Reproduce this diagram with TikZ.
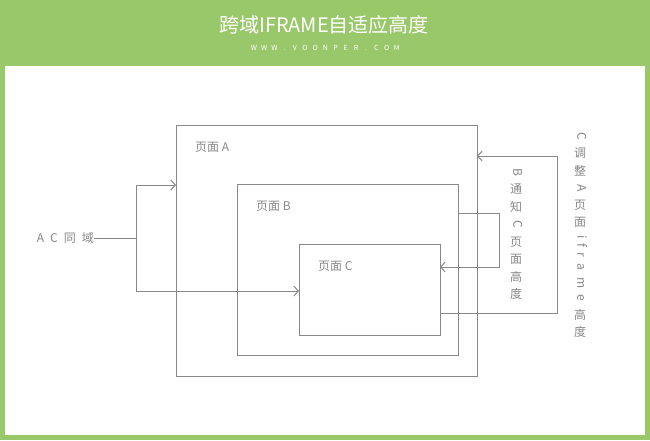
\documentclass[tikz,border=0pt]{standalone}
\usepackage{fontspec}
\setmainfont{Noto Sans CJK SC}
\usepackage{tikz}
\usetikzlibrary{arrows.meta,positioning}
\definecolor{headGreen}{RGB}{153,200,106}
\definecolor{lineGray}{RGB}{136,136,136}

\begin{document}
\begin{tikzpicture}[x=1pt,y=-1pt,
    page/.style={draw=lineGray, line width=1pt, anchor=north west, inner sep=0pt, outer sep=0pt},
    link/.style={draw=lineGray, line width=1pt},
    arr/.style={link, -{Straight Barb[length=4.5pt,width=10pt]}},
    txt/.style={text=lineGray, font=\fontsize{12}{14}\selectfont, inner sep=0pt},
    cjk/.style={txt, anchor=center},
    lat/.style={txt, rotate=-90, anchor=mid},
    sub/.style={text=white, font=\fontsize{7}{8}\selectfont, inner sep=0pt, anchor=base}]
    % Frame and header
    \useasboundingbox (0,0) rectangle (650,440);
    \fill[headGreen] (0,0) rectangle (650,440);
    \fill[white] (5,66) rectangle (645,435);
    \node[text=white, font=\fontsize{20}{24}\selectfont, inner sep=0pt] (title) at (324,25) {跨域IFRAME自适应高度};
    \foreach \ch [count=\i from 0] in {W,W,W,.,V,O,O,N,P,E,R,.,C,O,M}
        \node[sub] (site\i) at ({254+\i*10.2},50.5) {\ch};

    % Pages
    \node[page, minimum width=301pt, minimum height=251pt] (pageA) at (176,125) {};
    \node[page, minimum width=221pt, minimum height=171pt] (pageB) at (237,184) {};
    \node[page, minimum width=141pt, minimum height=91pt] (pageC) at (299,244) {};
    \node[txt, below right=17pt and 19pt of pageA.north west] (nameA) {页面 A};
    \node[txt, below right=17pt and 19pt of pageB.north west] (nameB) {页面 B};
    \node[txt, below right=17pt and 19pt of pageC.north west] (nameC) {页面 C};

    % A and C share a domain
    \node[txt, anchor=east] (sameDomain) at (94,238) {A\hspace{6pt}C\hspace{6pt}同\hspace{6pt}域};
    \coordinate (fork) at (136,238);
    \draw[link] (sameDomain.east) -- (fork);
    \draw[arr] (fork) |- (pageA.west |- 0,185);
    \draw[arr] (fork) |- (pageC.west |- 0,291);

    % B tells C the height
    \coordinate (bOut) at (pageB.east |- 0,213);
    \coordinate (bTurn) at (499,267);
    \draw[arr] (bOut) -| (bTurn) -- (pageC.east |- bTurn);
    \foreach \ch/\y/\s [count=\i] in {B/172/lat, 通/189/cjk, 知/207/cjk, C/224/lat,
        页/242/cjk, 面/259/cjk, 高/277/cjk, 度/294/cjk}
        \node[\s] (bNote\i) at (516,\y) {\ch};

    % C sets the iframe height in A
    \coordinate (cOut) at (pageC.east |- 0,313);
    \coordinate (cTurn) at (557,156);
    \draw[arr] (cOut) -| (cTurn) -- (pageA.east |- cTurn);
    \foreach \ch/\y/\s [count=\i] in {C/136/lat, 调/153/cjk, 整/171/cjk, A/188/lat,
        页/205/cjk, 面/222/cjk, i/237/lat, f/245/lat, r/255/lat, a/267/lat,
        m/283/lat, e/298/lat, 高/315/cjk, 度/332/cjk}
        \node[\s] (cNote\i) at (580,\y) {\ch};
\end{tikzpicture}
\end{document}
